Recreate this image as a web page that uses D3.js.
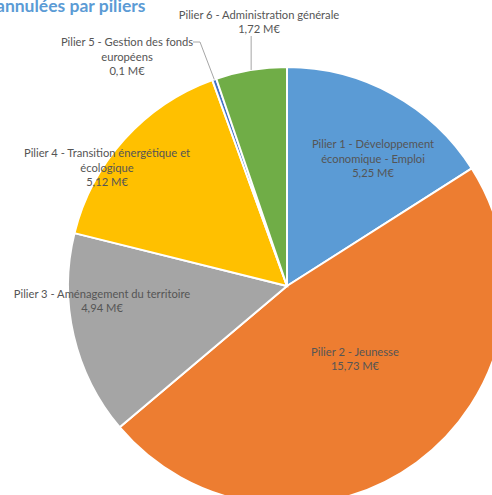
<!DOCTYPE html>
<html>
<head>
<meta charset="utf-8">
<script src="https://cdn.jsdelivr.net/npm/d3@7"></script>
<style>
  body { margin: 0; background: #fff; }
  svg { display: block; }
</style>
</head>
<body>
<svg id="chart" width="492" height="495"></svg>
<script>
const svg = d3.select("#chart");

// données
const piliers = [
  "Pilier 1 - Développement économique - Emploi",
  "Pilier 2 - Jeunesse",
  "Pilier 3 - Aménagement du territoire",
  "Pilier 4 - Transition énergétique et écologique",
  "Pilier 5 - Gestion des fonds européens",
  "Pilier 6 - Administration générale"
];
const montants = [5.25, 15.73, 4.94, 5.12, 0.1, 1.72];
const libelles = ["5,25 M€", "15,73 M€", "4,94 M€", "5,12 M€", "0,1 M€", "1,72 M€"];
// découpage des étiquettes en lignes (comme dans Excel)
const lignes = [
  ["Pilier 1 - Développement", "économique - Emploi"],
  ["Pilier 2 - Jeunesse"],
  ["Pilier 3 - Aménagement du territoire"],
  ["Pilier 4 - Transition énergétique et", "écologique"],
  ["Pilier 5 - Gestion des fonds", "européens"],
  ["Pilier 6 - Administration générale"]
];

const couleurs = ["#5b9bd5", "#ed7d31", "#a5a5a5", "#ffc000", "#4472c4", "#70ad47"];

// mise en page
const cx = 287, cy = 286, r = 219;
// position du centre de chaque étiquette, relative au centre du camembert
const posEtiquettes = [[86, -127], [68, 73], [-185, 15], [-180, -118], [-160, -229], [-28, -264]];
const lineH = 14.5;

const pie = d3.pie().value(d => d).sort(null);
const arc = d3.arc().innerRadius(0).outerRadius(r);
const arcs = pie(montants);

const g = svg.append("g").attr("transform", `translate(${cx},${cy})`);

g.selectAll("path")
  .data(arcs)
  .enter().append("path")
  .attr("d", arc)
  .attr("fill", (d, i) => couleurs[i])
  .attr("stroke", "#fff")
  .attr("stroke-width", 2);

// lignes de rappel pour les petites parts
const outerPt = (d) => {
  const a = (d.startAngle + d.endAngle) / 2;
  return [r * Math.sin(a), -r * Math.cos(a)];
};
// Pilier 5
{
  const p = outerPt(arcs[4]);
  g.append("polyline")
    .attr("points", [[-94, -244], [-87, -244], p].map(q => q.join(",")).join(" "))
    .attr("fill", "none").attr("stroke", "#a6a6a6").attr("stroke-width", 1);
}
// Pilier 6
{
  const p = outerPt(arcs[5]);
  g.append("line")
    .attr("x1", p[0]).attr("y1", -250)
    .attr("x2", p[0]).attr("y2", p[1])
    .attr("stroke", "#a6a6a6").attr("stroke-width", 1);
}

// étiquettes
arcs.forEach((d, i) => {
  const rows = lignes[i].concat([libelles[i]]);
  const [lx, ly] = posEtiquettes[i];
  const y0 = ly - (rows.length - 1) * lineH / 2;
  const t = g.append("text")
    .attr("text-anchor", "middle")
    .attr("font-family", "Lato, 'Open Sans', sans-serif")
    .attr("font-size", 11.2)
    .attr("fill", "#555555");
  rows.forEach((s, k) => {
    t.append("tspan")
      .attr("x", lx)
      .attr("y", y0 + k * lineH)
      .attr("dy", "0.35em")
      .text(s);
  });
});

// titre (coupé à gauche, comme dans la capture)
svg.append("text")
  .attr("x", -4)
  .attr("y", 12)
  .attr("font-family", "Lato, 'Open Sans', sans-serif")
  .attr("font-weight", "bold")
  .attr("font-size", 17.5)
  .attr("fill", "#5b9bd5")
  .text("annulées par piliers");
</script>
</body>
</html>
